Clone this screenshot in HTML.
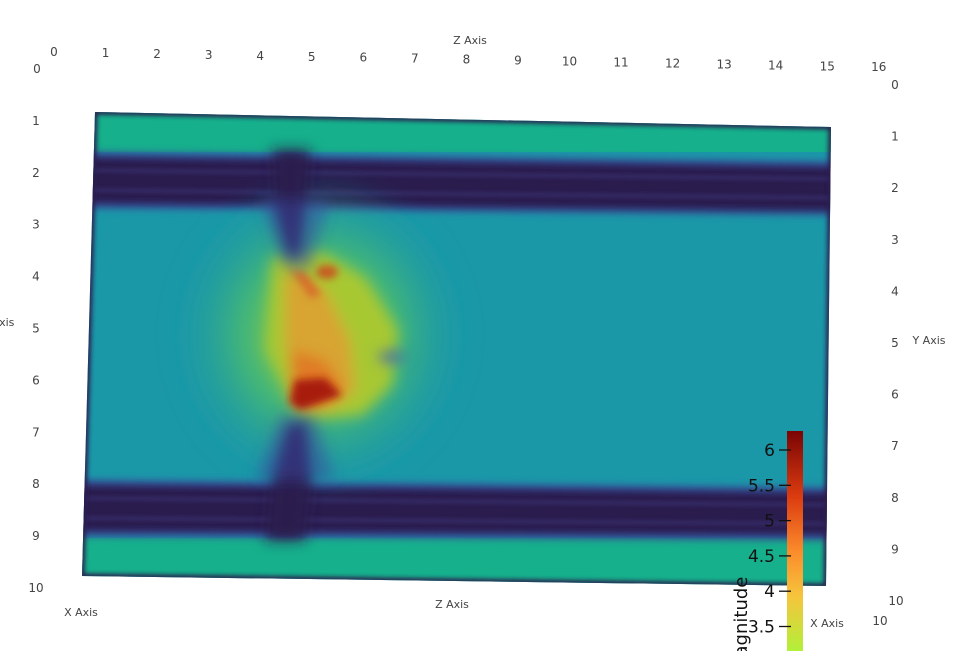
<!DOCTYPE html>
<html><head><meta charset="utf-8">
<style>
html,body{margin:0;padding:0;background:#fff;}
svg{display:block;}
text{font-family:"DejaVu Sans","Liberation Sans",sans-serif;fill:#444;font-size:12px;}
</style></head>
<body>
<svg id="chart" width="962" height="651" viewBox="0 0 962 651">
<defs>
  <clipPath id="plate"><polygon points="95,112 831,127 826,586 82,576"/></clipPath>
  <filter id="b2"><feGaussianBlur stdDeviation="2"/></filter>
  <filter id="b4"><feGaussianBlur stdDeviation="4"/></filter>
  <filter id="b7"><feGaussianBlur stdDeviation="7"/></filter>
  <filter id="b10"><feGaussianBlur stdDeviation="10"/></filter>
  <radialGradient id="halo" cx="0.5" cy="0.5" r="0.5">
    <stop offset="0" stop-color="#a8cc30" stop-opacity="1"/>
    <stop offset="0.5" stop-color="#50c068" stop-opacity="0.8"/>
    <stop offset="1" stop-color="#1a98a8" stop-opacity="0"/>
  </radialGradient>
  <linearGradient id="cbar" x1="0" y1="1" x2="0" y2="0">
    <stop offset="0" stop-color="#b2f03a"/>
    <stop offset="0.25" stop-color="#f6c43c"/>
    <stop offset="0.45" stop-color="#fb8c2c"/>
    <stop offset="0.7" stop-color="#dc3c10"/>
    <stop offset="1" stop-color="#7a0404"/>
  </linearGradient>
</defs>
<g clip-path="url(#plate)">
  <rect x="70" y="100" width="780" height="500" fill="#1a98a8"/>
  <rect x="70" y="100" width="780" height="52" fill="#16b08c"/>
  <rect x="70" y="538" width="780" height="60" fill="#16b08c"/>
  <g filter="url(#b4)">
    <polygon points="70,152 850,162 850,215 70,208" fill="#3a4aa0"/>
    <polygon points="70,156 850,166 850,212 70,204" fill="#2a1d4e"/>
    <polygon points="70,480 850,488 850,540 70,536" fill="#3a4aa0"/>
    <polygon points="70,484 850,492 850,536 70,532" fill="#2a1d4e"/>
  </g>
  <g filter="url(#b2)" stroke="#3f3a80" stroke-width="3" opacity="0.7">
    <line x1="70" y1="170" x2="850" y2="179"/>
    <line x1="70" y1="190" x2="850" y2="198"/>
    <line x1="70" y1="498" x2="850" y2="505"/>
    <line x1="70" y1="518" x2="850" y2="524"/>
  </g>
  <ellipse cx="320" cy="335" rx="150" ry="160" fill="url(#halo)" filter="url(#b10)"/>
  <g filter="url(#b7)">
    <polygon points="272,258 322,252 365,278 398,330 392,385 362,415 300,420 265,350" fill="#a8c830"/>
    <polygon points="285,272 325,290 350,340 355,390 330,410 295,410 285,340" fill="#d8a430"/>
    <polygon points="292,350 325,360 345,390 310,410 290,405" fill="#e07a28"/>
  </g>
  <g filter="url(#b4)">
    <polygon points="295,380 325,378 342,395 300,410 290,402" fill="#a81a08"/>
    <ellipse cx="327" cy="272" rx="11" ry="7" fill="#c85a20"/>
    <polygon points="290,270 305,272 322,295 310,298" fill="#d8702a"/>
  </g>
  <g filter="url(#b7)">
    <polygon points="272,150 310,150 305,210 300,255 288,258 275,210" fill="#2a1d4e"/>
    <polygon points="288,425 305,420 312,480 305,540 265,540 272,480" fill="#2a1d4e"/>
    <polygon points="260,200 330,200 310,270 285,270" fill="#3a4aa0" opacity="0.5"/>
    <polygon points="280,415 315,415 335,480 255,480" fill="#3a4aa0" opacity="0.5"/>
    <ellipse cx="392" cy="357" rx="14" ry="5" fill="#3a60b8"/>
  </g>
  <polygon points="95,112 831,127 826,586 82,576" fill="none" stroke="#2a1d4e" stroke-width="5" filter="url(#b2)"/>
</g>
<g id="axes"></g>
<g id="cb">
  <rect x="787" y="431" width="16" height="220" fill="url(#cbar)"/>
  <text x="747" y="672" transform="rotate(-90 747 672)" style="font-size:18px;fill:#111">Magnitude</text>
</g>
<script>
const cbTicks=[6,5.5,5,4.5,4,3.5];
const topTicks=[0,1,2,3,4,5,6,7,8,9,10,11,12,13,14,15,16];
const leftTicks=[0,1,2,3,4,5,6,7,8,9,10];
const rightTicks=[0,1,2,3,4,5,6,7,8,9,10];
const NS='http://www.w3.org/2000/svg';
const ax=document.getElementById('axes'), cb=document.getElementById('cb');
function t(parent,x,y,s,name,style){const e=document.createElementNS(NS,'text');e.setAttribute('x',x);e.setAttribute('y',y);e.setAttribute('text-anchor','middle');if(style)e.setAttribute('style',style);e.textContent=s;


parent.appendChild(e);return e;}
const cbY=v=>450+(6-v)*70.6;
cbTicks.forEach(v=>{
  const y=cbY(v);
  const l=document.createElementNS(NS,'line');l.setAttribute('x1',779);l.setAttribute('x2',791);l.setAttribute('y1',y);l.setAttribute('y2',y);l.setAttribute('stroke','#111');l.setAttribute('stroke-width','1.3');
  
  
  cb.appendChild(l);
  const e=t(cb,775,y+6,String(v),'color-bar-label','font-size:17px;fill:#111');e.setAttribute('text-anchor','end');
});
const topX=v=>54+v*51.55, topY=v=>52+v*0.95;
topTicks.forEach(v=>t(ax,topX(v),topY(v)+4,String(v),'z-axis-tick'));
const leftY=v=>69+v*51.9;
leftTicks.forEach(v=>t(ax,v===0?37:36,leftY(v)+4,String(v),'y-axis-tick-left'));
const rightY=v=>85+v*51.6;
rightTicks.forEach(v=>t(ax,v===10?896:895,rightY(v)+4,String(v),'y-axis-tick-right'));
t(ax,470,44,'Z Axis','z-axis-title-top','font-size:11px');
t(ax,452,608,'Z Axis','z-axis-title-bottom','font-size:11px');
t(ax,81,616,'X Axis','x-axis-title-left','font-size:11px');
t(ax,827,627,'X Axis','x-axis-title-right','font-size:11px');
t(ax,880,625,'10','x-axis-tick-10');
t(ax,929,344,'Y Axis','y-axis-title-right','font-size:11px');
t(ax,3,326,'Axis','y-axis-title-left','font-size:11px');
</script>
</svg>
</body></html>
